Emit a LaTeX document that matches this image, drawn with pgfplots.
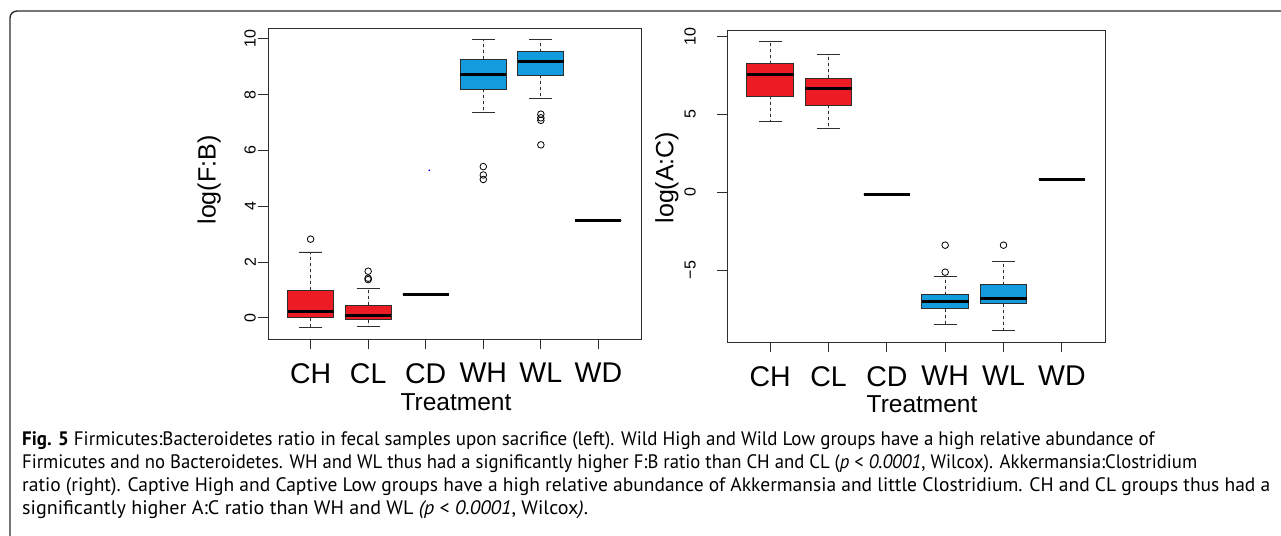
\documentclass[border=0pt]{standalone}
\usepackage{fontspec}
\setmainfont{Liberation Sans}
\newfontfamily\capfont{PT Sans}
\usepackage{pgfplots}
\pgfplotsset{compat=1.18}
\usepgfplotslibrary{statistics}
\definecolor{bred}{RGB}{237,28,36}
\definecolor{bblue}{RGB}{18,156,221}
\definecolor{frm}{RGB}{45,45,45}
\newcommand\fs[1]{\fontsize{#1}{#1}\selectfont}
\pgfplotsset{
  rstyle/.style={
    scale only axis,
    xmin=0.26, xmax=6.74,
    xtick={1,2,3,4,5,6},
    xticklabels={CH,CL,CD,WH,WL,WD},
    tick align=outside,
    tick pos=left,
    major tick length=10pt,
    axis line style={line width=0.9pt, frm},
    every tick/.append style={line width=0.9pt, frm},
    xticklabel style={font=\fs{28.5}, inner sep=0pt, anchor=north, yshift=-14pt},
    yticklabel style={font=\fs{16}, rotate=90, inner sep=0pt, anchor=south},
    ylabel style={font=\fs{25}},
    xlabel style={font=\fs{24.5}},
    boxplot/draw direction=y,
    boxplot/box extend=0.8,
    boxplot/whisker extend=0.4,
    boxplot/every box/.style={draw=frm, line width=0.8pt},
    boxplot/every median/.style={black, line width=3pt},
    boxplot/draw/upper whisker/.code={%
      \draw[frm, line width=0.8pt, dash pattern=on 3pt off 3pt]
        (boxplot box cs:\pgfplotsboxplotvalue{upper quartile},0.5) -- (boxplot box cs:\pgfplotsboxplotvalue{upper whisker},0.5);
      \draw[frm, line width=0.8pt, solid]
        (boxplot whisker cs:\pgfplotsboxplotvalue{upper whisker},0) -- (boxplot whisker cs:\pgfplotsboxplotvalue{upper whisker},1);
    },
    boxplot/draw/lower whisker/.code={%
      \draw[frm, line width=0.8pt, dash pattern=on 3pt off 3pt]
        (boxplot box cs:\pgfplotsboxplotvalue{lower quartile},0.5) -- (boxplot box cs:\pgfplotsboxplotvalue{lower whisker},0.5);
      \draw[frm, line width=0.8pt, solid]
        (boxplot whisker cs:\pgfplotsboxplotvalue{lower whisker},0) -- (boxplot whisker cs:\pgfplotsboxplotvalue{lower whisker},1);
    },
  },
  rbox/.style={draw=frm, fill=#1, mark=o, mark size=3.3pt,
    mark options={draw=black, fill=none, line width=0.8pt, solid}},
}
\begin{document}
\begin{tikzpicture}[x=1pt,y=1pt]
\path[use as bounding box] (0,0) rectangle (1281,535);
% frame
\draw[line width=1.4pt, frm, rounded corners=7pt] (10,-5) -- (10,524) -- (1300,524);

% ---------- left: F:B ----------
\begin{axis}[rstyle,
  at={(268pt,196pt)}, anchor=south west,
  width=373pt, height=311pt,
  ymin=-0.76, ymax=10.39,
  ytick={0,2,4,6,8,10}, yticklabels={0,2,4,6,8,10},
  yticklabel style={yshift=2pt},
  xlabel={Treatment}, ylabel={log(F:B)},
  xlabel style={at={(axis description cs:0.504,-0.2315)}, anchor=base},
  ylabel style={at={(axis description cs:-0.158,0.511)}, anchor=center},
]
\addplot[rbox=bred, boxplot prepared={draw position=1, lower whisker=-0.35, lower quartile=0.0, median=0.23, upper quartile=0.98, upper whisker=2.36}]
  table[row sep=\\, y index=0] {v\\ 2.82\\};
\addplot[rbox=bred, boxplot prepared={draw position=2, lower whisker=-0.31, lower quartile=-0.07, median=0.10, upper quartile=0.46, upper whisker=1.04}]
  table[row sep=\\, y index=0] {v\\ 1.37\\ 1.42\\ 1.67\\};
\addplot[rbox=white, boxplot prepared={draw position=3, lower whisker=0.85, lower quartile=0.85, median=0.85, upper quartile=0.85, upper whisker=0.85}]
  coordinates {};
\addplot[rbox=bblue, boxplot prepared={draw position=4, lower whisker=7.36, lower quartile=8.20, median=8.73, upper quartile=9.27, upper whisker=9.98}]
  table[row sep=\\, y index=0] {v\\ 5.42\\ 5.12\\ 4.96\\};
\addplot[rbox=bblue, boxplot prepared={draw position=5, lower whisker=7.86, lower quartile=8.70, median=9.18, upper quartile=9.54, upper whisker=9.98}]
  table[row sep=\\, y index=0] {v\\ 7.30\\ 7.17\\ 7.08\\ 6.20\\};
\addplot[rbox=white, boxplot prepared={draw position=6, lower whisker=3.49, lower quartile=3.49, median=3.49, upper quartile=3.49, upper whisker=3.49}]
  coordinates {};
\addplot[only marks, mark=*, mark size=0.6pt, blue] coordinates {(3.06,5.29)};
\end{axis}

% ---------- right: A:C ----------
\begin{axis}[rstyle,
  at={(727pt,193pt)}, anchor=south west,
  width=378pt, height=312pt,
  ymin=-9.61, ymax=10.40,
  ytick={-5,0,5,10}, yticklabels={−5,0,5,10},
  yticklabel style={yshift=21pt},
  xlabel={Treatment}, ylabel={log(A:C)},
  xlabel style={at={(axis description cs:0.516,-0.2244)}, anchor=base},
  ylabel style={at={(axis description cs:-0.159,0.527)}, anchor=center},
]
\addplot[rbox=bred, boxplot prepared={draw position=1, lower whisker=4.53, lower quartile=6.15, median=7.54, upper quartile=8.25, upper whisker=9.66}]
  coordinates {};
\addplot[rbox=bred, boxplot prepared={draw position=2, lower whisker=4.10, lower quartile=5.58, median=6.63, upper quartile=7.29, upper whisker=8.85}]
  coordinates {};
\addplot[rbox=white, boxplot prepared={draw position=3, lower whisker=-0.15, lower quartile=-0.15, median=-0.15, upper quartile=-0.15, upper whisker=-0.15}]
  coordinates {};
\addplot[rbox=bblue, boxplot prepared={draw position=4, lower whisker=-8.48, lower quartile=-7.47, median=-6.99, upper quartile=-6.58, upper whisker=-5.38}]
  table[row sep=\\, y index=0] {v\\ -3.40\\ -5.13\\};
\addplot[rbox=bblue, boxplot prepared={draw position=5, lower whisker=-8.87, lower quartile=-7.16, median=-6.79, upper quartile=-5.94, upper whisker=-4.42}]
  table[row sep=\\, y index=0] {v\\ -3.40\\};
\addplot[rbox=white, boxplot prepared={draw position=6, lower whisker=0.81, lower quartile=0.81, median=0.81, upper quartile=0.81, upper whisker=0.81}]
  coordinates {};
\end{axis}

% ---------- caption ----------
\begin{scope}[every node/.style={anchor=base west, inner sep=0pt, font=\capfont\fs{19.5}}]
\node[xscale=0.972] at (22,89) {\textbf{Fig. 5} Firmicutes:Bacteroidetes ratio in fecal samples upon sacrifice (left). Wild High and Wild Low groups have a high relative abundance of};
\node[xscale=0.959] at (22,66) {Firmicutes and no Bacteroidetes. WH and WL thus had a significantly higher F:B ratio than CH and CL (\textit{p} < \textit{0.0001}, Wilcox). Akkermansia:Clostridium};
\node[xscale=1.0] at (22,43) {ratio (right). Captive High and Captive Low groups have a high relative abundance of Akkermansia and little Clostridium. CH and CL groups thus had a};
\node[xscale=1.029] at (22,20) {significantly higher A:C ratio than WH and WL \textit{(p} < \textit{0.0001}, Wilcox\textit{)}.};
\end{scope}
\end{tikzpicture}
\end{document}
